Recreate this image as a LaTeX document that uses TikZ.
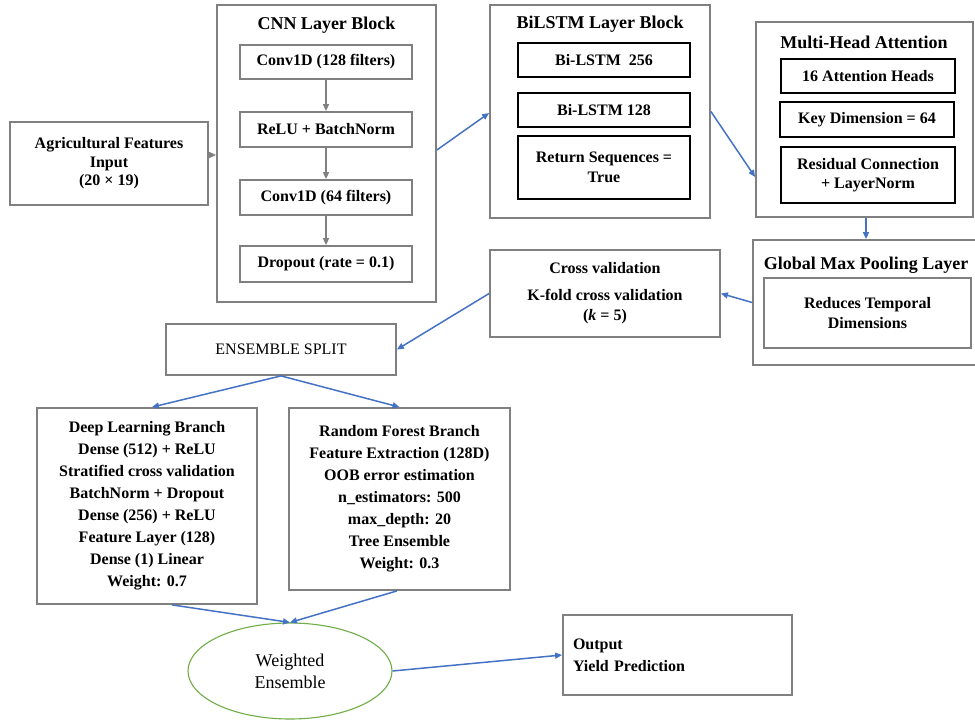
\documentclass[tikz,border=0pt]{standalone}
\usepackage{fontspec}
\setmainfont{Liberation Serif}
\usetikzlibrary{arrows.meta,shapes.geometric}
\definecolor{gb}{RGB}{128,128,128}
\definecolor{ab}{RGB}{68,114,196}
\definecolor{eg}{RGB}{112,173,71}
\begin{document}
\begin{tikzpicture}[x=1pt,y=-1pt,
 gbox/.style={draw=gb,line width=1.8pt,inner sep=0pt,align=center,font=\bfseries\fontsize{16}{20}\selectfont},
 kbox/.style={draw=black,line width=1.1pt,inner sep=0pt,align=center,font=\bfseries\fontsize{16}{20}\selectfont},
 ttl/.style={font=\bfseries\fontsize{18}{22}\selectfont,inner sep=0pt},
 barrow/.style={draw=ab,line width=1.5pt,-{Triangle[length=7pt,width=6pt]}},
 garrow/.style={draw=gb,line width=1.5pt,-{Triangle[length=7pt,width=6pt]}},
]
\useasboundingbox (0,0) rectangle (975,722);

% input
\node[gbox,minimum width=198pt,minimum height=83pt,font=\bfseries\fontsize{16}{18.5}\selectfont] (inp) at (109,163.5) {Agricultural Features\\Input\\(20 × 19)};

% CNN block
\node[gbox,minimum width=219pt,minimum height=297pt] (cnn) at (326.5,153.5) {};
\node[ttl] (cnnt) at (326.5,25) {CNN Layer Block};
\node[gbox,minimum width=172pt,minimum height=34pt] (c1) at (326,62) {Conv1D (128 filters)};
\node[gbox,minimum width=172pt,minimum height=35pt] (c2) at (326,129.5) {ReLU + BatchNorm};
\node[gbox,minimum width=172pt,minimum height=35pt] (c3) at (326,197.5) {Conv1D (64 filters)};
\node[gbox,minimum width=172pt,minimum height=36pt] (c4) at (326,264) {Dropout (rate = 0.1)};
\draw[garrow] (c1.south) -- (c2.north);
\draw[garrow] (c2.south) -- (c3.north);
\draw[garrow] (c3.south) -- (c4.north);

% BiLSTM block
\node[gbox,minimum width=220pt,minimum height=213pt] (bil) at (600,111.5) {};
\node[ttl] (bilt) at (600,24) {BiLSTM Layer Block};
\node[kbox,minimum width=172pt,minimum height=34pt] (b1) at (604,60) {Bi-LSTM\ \ 256};
\node[kbox,minimum width=172pt,minimum height=34pt] (b2) at (604,110) {Bi-LSTM 128};
\node[kbox,minimum width=172pt,minimum height=63pt] (b3) at (604,167.5) {Return Sequences =\\True};

% Multi-head attention
\node[gbox,minimum width=217pt,minimum height=195pt] (mha) at (864.5,119.5) {};
\node[ttl] (mhat) at (864,42) {Multi-Head Attention};
\node[kbox,minimum width=174pt,minimum height=34pt] (m1) at (868,76) {16 Attention Heads};
\node[kbox,minimum width=174pt,minimum height=35pt] (m2) at (867,119.5) {Key Dimension = 64};
\node[kbox,minimum width=174pt,minimum height=56pt,font=\bfseries\fontsize{16}{18.5}\selectfont] (m3) at (868,175) {Residual Connection\\+ LayerNorm};

% Global max pooling
\node[gbox,minimum width=223pt,minimum height=125pt] (gmp) at (864.5,302.5) {};
\node[ttl] (gmpt) at (866,265) {Global Max Pooling Layer};
\node[gbox,minimum width=207pt,minimum height=70pt] (g1) at (867.5,313) {Reduces Temporal\\Dimensions};

% Cross validation
\node[gbox,minimum width=230pt,minimum height=87pt] (cv) at (605,293.5) {Cross validation\\[7pt]K-fold cross validation\\(\textit{k} = 5)};

% Ensemble split
\node[gbox,minimum width=230pt,minimum height=51pt,font=\fontsize{16}{20}\selectfont] (es) at (281,349.5) {ENSEMBLE SPLIT};

% Branches
\node[gbox,minimum width=220pt,minimum height=196pt,font=\bfseries\fontsize{16}{22}\selectfont] (dl) at (147,506) {Deep Learning Branch\\Dense (512) + ReLU\\Stratified cross validation\\BatchNorm + Dropout\\Dense (256) + ReLU\\Feature Layer (128)\\Dense (1) Linear\\Weight: 0.7};
\node[gbox,minimum width=221pt,minimum height=182pt,font=\bfseries\fontsize{16}{22}\selectfont] (rf) at (399.5,499) {Random Forest Branch\\Feature Extraction (128D)\\OOB error estimation\\n\_estimators: 500\\max\_depth: 20\\Tree Ensemble\\Weight: 0.3};

% Weighted ensemble
\node[ellipse,draw=eg,line width=1.1pt,minimum width=204pt,minimum height=96pt,inner sep=0pt,align=center,font=\fontsize{18}{22}\selectfont] (ell) at (290,671) {Weighted\\Ensemble};

% Output
\node[gbox,minimum width=229pt,minimum height=80pt,text width=209pt,inner xsep=10pt,align=left,font=\bfseries\fontsize{16}{22}\selectfont] (out) at (677.5,655) {Output\\Yield Prediction};

% connectors
\draw[garrow] ([yshift=8.5pt]inp.east) -- ([yshift=8.5pt]inp.east -| cnn.west);
\draw[barrow] ([yshift=3.5pt]cnn.east) -- ([yshift=-1.5pt]bil.west);
\draw[barrow] (bil.east) -- ([yshift=-57.5pt]mha.west);
\draw[barrow] ([xshift=1.5pt]mha.south) -- ([xshift=1.5pt]mha.south |- gmp.north);
\draw[barrow] (gmp.west) -- (cv.east);
\draw[barrow] (cv.west) -- (es.east);
\draw[barrow] (es.south) -- ([xshift=5pt]dl.north);
\draw[barrow] (es.south) -- (rf.north);
\draw[barrow] ([xshift=25pt]dl.south) -- (ell.north);
\draw[barrow] ([xshift=-2.5pt]rf.south) -- (ell.north);
\draw[barrow] (ell.east) -- (out.west);
\end{tikzpicture}
\end{document}
